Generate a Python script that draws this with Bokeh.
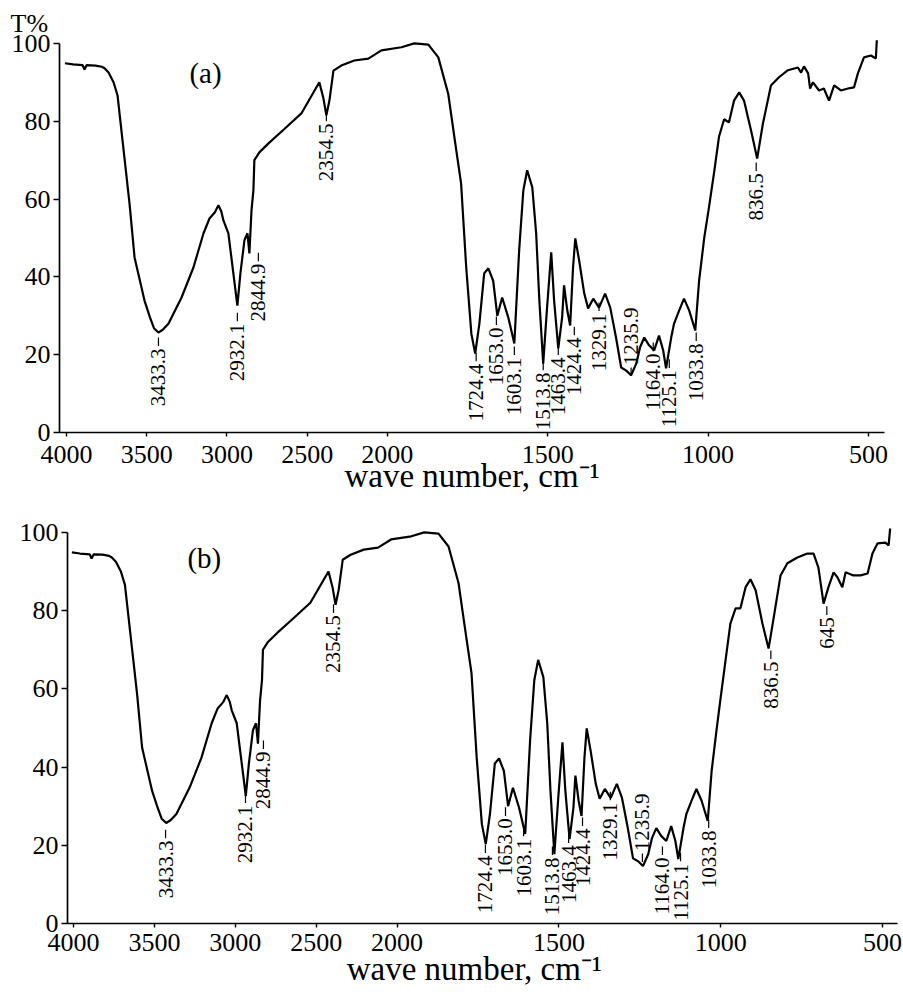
import math
import numpy as np
from bokeh.plotting import figure
from bokeh.models import Range1d, FixedTicker, Label, Spacer
from bokeh.layouts import column, row
from bokeh.core.properties import value
from bokeh.embed import file_html
from bokeh.resources import INLINE

FONT = "Liberation Serif"

# ---------------- data ----------------
# part of the spectrum shared by (a) and (b): wavenumber (cm-1) / transmittance (%)
body_wn = [4010, 3960, 3900, 3888, 3875, 3820, 3780, 3763, 3738, 3707, 3682, 3639, 3607,
           3576, 3514, 3480, 3455, 3427, 3400, 3364, 3283, 3209, 3146, 3109, 3075, 3053,
           3035, 3022, 2991, 2960, 2935, 2916, 2891, 2872, 2860, 2847, 2835, 2829, 2798,
           2741, 2642, 2536, 2424, 2399, 2380, 2361, 2336, 2287, 2206, 2118, 2037, 1956,
           1916, 1872, 1841, 1810, 1798, 1785, 1770, 1754, 1738, 1726, 1713, 1698, 1685,
           1670, 1657, 1642, 1623, 1604, 1589, 1576, 1564, 1548, 1536, 1526, 1514, 1502,
           1489, 1480, 1467, 1455, 1449, 1439, 1430, 1421, 1414, 1402, 1386, 1374, 1358,
           1340, 1321, 1305, 1287, 1271, 1255, 1240, 1224, 1212, 1199, 1184, 1168, 1153,
           1140, 1131, 1115, 1106, 1090, 1075, 1059, 1040, 1028, 1012]
body_t = [94.9, 94.6, 94.4, 93.3, 94.4, 94.3, 94.0, 93.6, 92.5, 90.0, 86.6, 70.6, 58.7,
          45.0, 33.9, 29.6, 26.8, 25.7, 26.4, 28.0, 34.7, 42.4, 51.2, 55.0, 56.6, 58.4,
          56.8, 54.5, 51.2, 40.9, 32.6, 40.9, 49.4, 51.2, 46.0, 57.0, 62.2, 70.0, 72.0,
          74.3, 78.0, 82.0, 90.0, 86.0, 81.5, 85.3, 93.0, 94.3, 95.6, 96.1, 98.2, 99.0,
          100.0, 99.7, 96.4, 87.0, 80.0, 72.5, 64.0, 42.4, 25.4, 20.3, 28.0, 40.9, 42.2,
          39.0, 30.0, 34.7, 29.6, 22.9, 46.8, 62.2, 67.4, 63.0, 51.2, 33.9, 17.7, 32.1,
          46.3, 33.9, 21.6, 29.6, 37.8, 31.4, 27.5, 42.4, 49.9, 44.2, 35.7, 31.9, 34.4,
          32.1, 35.7, 32.1, 24.4, 16.7, 15.9, 14.7, 17.7, 21.9, 24.4, 22.4, 21.1, 24.9,
          21.1, 16.5, 24.4, 28.0, 31.4, 34.4, 31.4, 26.2, 39.0, 50.0]

# low-wavenumber end of spectrum (a)
tail_a_wn = [997, 981, 966, 950, 935, 919, 903, 888, 866, 847, 829, 804, 779, 751, 720,
             710, 701, 688, 682, 673, 654, 639, 623, 607, 586, 564, 545, 533, 514, 492,
             477, 474]
tail_a_t = [58.0, 67.0, 76.0, 80.5, 79.7, 85.3, 87.4, 85.3, 77.6, 70.4, 79.4, 89.2, 91.3,
            93.1, 93.8, 92.5, 94.1, 92.3, 88.4, 90.0, 87.9, 88.4, 85.3, 89.2, 87.9, 88.4,
            88.7, 92.3, 96.4, 96.9, 96.1, 100.8]

# low-wavenumber end of spectrum (b)
tail_b_wn = [1000, 985, 970, 954, 939, 923, 908, 892, 871, 852, 834, 815, 794, 763, 732,
             713, 698, 682, 667, 651, 639, 624, 614, 590, 568, 546, 531, 515, 491, 481, 476]
tail_b_t = [57.8, 67.3, 76.7, 80.6, 80.6, 86.0, 88.0, 85.2, 76.7, 70.3, 79.3, 89.0, 92.1,
            93.6, 94.6, 94.6, 91.0, 81.8, 86.0, 89.8, 88.5, 86.0, 89.8, 89.0, 89.0, 89.5,
            94.6, 97.2, 97.4, 96.7, 101.3]

# peak annotations: text, wavenumber where drawn, T% of the text end next to the band
# side: 1 = text hangs below the band, -1 = text stands above the band
lab_a_text = ["3433.3", "2932.1", "2844.9", "2354.5", "1724.4", "1653.0", "1603.1", "1513.8",
              "1463.4", "1424.4", "1329.1", "1235.9", "1164.0", "1125.1", "1033.8", "836.5"]
lab_a_wn = [3427, 2935, 2804, 2380, 1723, 1660, 1604, 1514, 1467, 1417, 1340, 1240, 1171,
            1121, 1037, 850]
lab_a_y = [21.6, 28.0, 43.4, 79.4, 17.7, 27.0, 19.3, 15.4, 19.3, 24.4, 30.6, 17.3, 20.3,
           16.0, 22.9, 66.6]
lab_a_side = [1, 1, 1, 1, 1, 1, 1, 1, 1, 1, 1, -1, 1, 1, 1, 1]

lab_b_text = ["3433.3", "2932.1", "2844.9", "2354.5", "1724.4", "1653.0", "1603.1", "1513.8",
              "1463.4", "1424.4", "1329.1", "1235.9", "1164.0", "1125.1", "1033.8", "836.5",
              "645"]
lab_b_wn = [3431, 2937, 2826, 2393, 1727, 1665, 1609, 1520, 1470, 1427, 1341, 1242, 1180,
            1124, 1037, 845, 672]
lab_b_y = [21.2, 30.2, 44.0, 78.8, 17.4, 26.9, 21.7, 16.9, 20.0, 24.3, 30.9, 18.5, 16.9,
           15.3, 23.8, 67.0, 78.3]
lab_b_side = [1, 1, 1, 1, 1, 1, 1, 1, 1, 1, 1, -1, 1, 1, 1, 1, 1]

xtick_wn = [4000, 3500, 3000, 2500, 2000, 1500, 1000, 500]
ytick_t = [0, 20, 40, 60, 80, 100]
x_title = "wave number, cm\u207b\u00b9"
y_title = "T%"


# the instrument's abscissa is compressed 2:1 above 2000 cm-1
def to_axis(w):
    w = np.asarray(w, dtype=float)
    return np.where(w <= 2000, w, 2000 + (w - 2000) / 2.0)


def panel(wn, t, lab_text, lab_wn, lab_y, lab_side, cfg):
    p = figure(width=cfg["width"], height=cfg["height"], output_backend="svg",
               toolbar_location=None,
               x_range=Range1d(cfg["x0"], cfg["x1"]), y_range=Range1d(0, 101),
               min_border_left=cfg["bl"], min_border_right=cfg["br"],
               min_border_top=cfg["bt"], min_border_bottom=cfg["bb"])
    p.background_fill_color = "white"
    p.border_fill_color = "white"
    p.outline_line_color = None
    p.xgrid.visible = False
    p.ygrid.visible = False

    xt = [int(v) for v in to_axis(xtick_wn)]
    p.xaxis.ticker = FixedTicker(ticks=xt)
    p.xaxis.major_label_overrides = {k: str(w) for k, w in zip(xt, xtick_wn)}
    p.yaxis.ticker = FixedTicker(ticks=ytick_t)
    p.yaxis.bounds = (0, 100)
    for ax in (p.xaxis[0], p.yaxis[0]):
        ax.axis_line_color = "black"
        ax.axis_line_width = 1.7
        ax.major_tick_line_color = "black"
        ax.major_tick_line_width = 1.4
        ax.minor_tick_line_color = None
        ax.major_tick_in = 0
        ax.major_label_text_font = FONT
        ax.major_label_text_font_size = "26px"
        ax.major_label_text_color = "black"
    p.xaxis.major_tick_out = 4
    p.xaxis.major_label_standoff = cfg["tick_standoff"]
    p.yaxis.major_tick_out = 6
    p.yaxis.major_label_standoff = 3

    p.xaxis.axis_label = cfg["xlabel"]
    p.xaxis.axis_label_text_font = FONT
    p.xaxis.axis_label_text_font_size = "33px"
    p.xaxis.axis_label_text_font_style = "normal"
    p.xaxis.axis_label_text_color = "black"
    p.xaxis.axis_label_standoff = cfg["xl_standoff"]

    if cfg.get("title"):
        p.title.text = cfg["title"]
        p.title.align = "left"
        p.title.offset = cfg["title_offset"]
        p.title.standoff = cfg["title_standoff"]
        p.title.text_font = FONT
        p.title.text_font_size = "26px"
        p.title.text_font_style = "normal"
        p.title.text_color = "black"

    p.line(to_axis(wn), t, line_color="black", line_width=2.2)

    # peak labels
    xs = to_axis(lab_wn)
    ys = np.asarray(lab_y, dtype=float)
    side = np.asarray(lab_side)
    down = side > 0
    up = ~down
    common = dict(angle=math.pi / 2, text_baseline="middle", text_color="black",
                  text_font=value(FONT), text_font_size="21px")
    p.text(x=xs[down], y=ys[down], text=[s for s, d in zip(lab_text, down) if d],
           text_align="right", **common)
    p.text(x=xs[up], y=ys[up], text=[s for s, d in zip(lab_text, up) if d],
           text_align="left", **common)
    y0 = ys + side * 0.6
    y1 = ys + side * 2.8
    p.segment(x0=xs, y0=y0, x1=xs, y1=y1, line_color="black", line_width=1.2)

    # panel letter
    p.add_layout(Label(x=cfg["letter_x"], y=cfg["letter_y"], text=cfg["letter"],
                       text_font=FONT, text_font_size="29px", text_color="black",
                       text_baseline="alphabetic"))
    return p


cfg_a = dict(width=890, height=503, x0=3022, x1=450, bl=59, br=6, bt=39, bb=71,
             tick_standoff=9, xl_standoff=-8, xlabel=x_title,
             letter="(a)", letter_x=2617, letter_y=92.5,
             title=y_title, title_offset=-49, title_standoff=4)
cfg_b = dict(width=895, height=493, x0=3018.5, x1=453.6, bl=59, br=6, bt=25, bb=73,
             tick_standoff=6, xl_standoff=-3, xlabel=x_title + "\u00a0\u00a0",
             letter="(b)", letter_x=2648, letter_y=93.4)

pa = panel(list(body_wn) + tail_a_wn, list(body_t) + tail_a_t,
           lab_a_text, lab_a_wn, lab_a_y, lab_a_side, cfg_a)
pb = panel(list(body_wn) + tail_b_wn, list(body_t) + tail_b_t,
           lab_b_text, lab_b_wn, lab_b_y, lab_b_side, cfg_b)

layout = column(row(pa, Spacer(width=13, height=10), spacing=0),
                row(Spacer(width=8, height=10), pb, spacing=0), spacing=0)
open("out.html", "w").write(file_html(layout, INLINE))
